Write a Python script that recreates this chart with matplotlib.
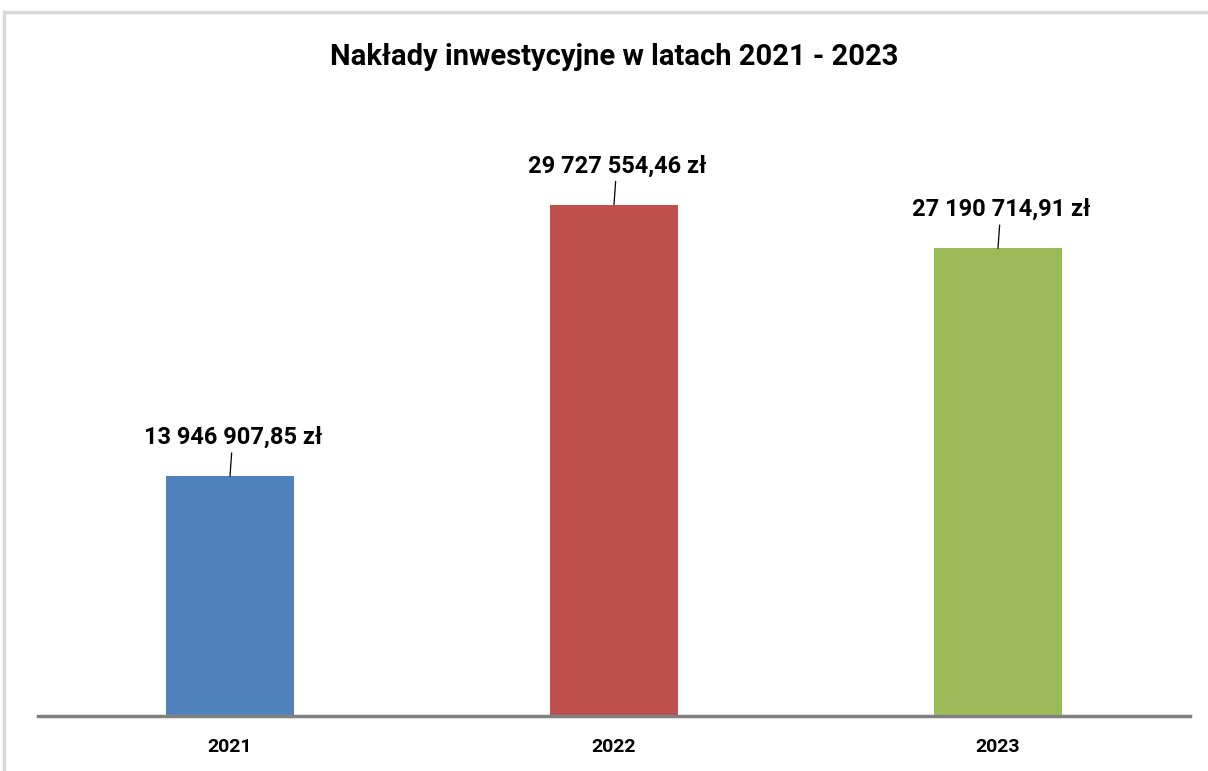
import matplotlib.pyplot as plt
from matplotlib.lines import Line2D

plt.rcParams['font.family'] = ['Liberation Sans Narrow', 'Roboto', 'DejaVu Sans']

years = ['2021', '2022', '2023']
values = [13946907.85, 29727554.46, 27190714.91]
colors = ['#4f81bd', '#c0504d', '#9bbb59']
title = 'Nakłady inwestycyjne w latach 2021 - 2023'


def fmt(v):
    s = f'{v:,.2f}'.replace(',', ' ').replace('.', ',')
    return s + ' zł'


fig = plt.figure(figsize=(12.08, 7.71), dpi=100)
# outer chart frame (light grey top and left edges)
fig.add_artist(Line2D([4 / 1208, 1], [1 - 12 / 771] * 2, color='#d9d9d9', lw=2.5))
fig.add_artist(Line2D([4 / 1208] * 2, [0, 1 - 12 / 771], color='#d9d9d9', lw=2.5))

ax = fig.add_axes([38 / 1208, 1 - 716 / 771, (1190 - 38) / 1208, (716 - 114) / 771])
x = range(len(years))
ax.bar(x, values, width=0.333, color=colors, zorder=2)
ax.set_xlim(-0.5, 2.5)
ax.set_ylim(0, 35e6)

for i, v in enumerate(values):
    ax.annotate(fmt(v), xy=(i, v), xytext=(2, 28), textcoords='offset points',
                ha='center', va='center', fontsize=17, fontweight='bold',
                arrowprops=dict(arrowstyle='-', color='black', lw=0.9,
                                shrinkA=1, shrinkB=0))

for s in ['top', 'right', 'left']:
    ax.spines[s].set_visible(False)
ax.spines['bottom'].set_color('#808080')
ax.spines['bottom'].set_linewidth(2.5)
ax.set_yticks([])
ax.set_xticks(list(x))
ax.set_xticklabels(years, fontsize=14, fontweight='bold')
ax.tick_params(axis='x', length=0, pad=16)

fig.text(614 / 1208, 1 - 57 / 771, title, ha='center', va='center',
         fontsize=21, fontweight='bold')

fig.savefig('out.png', dpi=100)
